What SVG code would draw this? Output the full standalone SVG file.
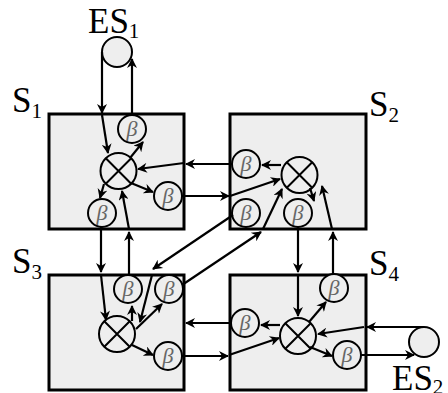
<svg xmlns="http://www.w3.org/2000/svg" width="448" height="393" viewBox="0 0 448 393">
<style>
.box{fill:#eeeeee;stroke:#000;stroke-width:3}
.c{fill:#eeeeee;stroke:#000;stroke-width:2}
.x{stroke:#000;stroke-width:2}
.b{font-family:"Liberation Serif","DejaVu Serif",serif;font-style:italic;font-size:22px;fill:#666;text-anchor:middle}
.lbl{font-family:"Liberation Serif","DejaVu Serif",serif;font-size:35px;fill:#000}
.sub{font-size:21px}
.e{fill:none;stroke:#000;stroke-width:2.2;marker-end:url(#ah)}
</style>
<defs>
<marker id="ah" viewBox="0 0 10 10" refX="9" refY="5" markerWidth="12" markerHeight="10" orient="auto" markerUnits="userSpaceOnUse"><path d="M0,0 L10,5 L0,10 L3,5 Z" fill="#000"/></marker>
<g id="otimes"><circle class="c" r="18"/><path class="x" d="M-12.7,-12.7 L12.7,12.7 M-12.7,12.7 L12.7,-12.7"/></g>
<g id="beta"><circle class="c" r="14"/><text class="b" y="7">β</text></g>
</defs>

<g id="ES1"><circle class="c" cx="117" cy="52" r="15"/><text class="lbl" x="88" y="33">ES<tspan class="sub" dy="5">1</tspan></text></g>
<g id="ES2"><circle class="c" cx="424" cy="342" r="15"/><text class="lbl" x="392" y="390">ES<tspan class="sub" dy="4">2</tspan></text></g>

<g id="S1"><rect class="box" x="49" y="114" width="135" height="115"/><text class="lbl" x="12" y="112">S<tspan class="sub" dy="6">1</tspan></text>
<use href="#otimes" x="118.5" y="171"/><use href="#beta" x="132" y="129"/><use href="#beta" x="168" y="196"/><use href="#beta" x="102" y="213"/></g>
<g id="S2"><rect class="box" x="230" y="114" width="136" height="115"/><text class="lbl" x="369" y="116">S<tspan class="sub" dy="6">2</tspan></text>
<use href="#otimes" x="299.5" y="175"/><use href="#beta" x="246" y="164"/><use href="#beta" x="246" y="213"/><use href="#beta" x="298" y="213"/></g>
<g id="S3"><rect class="box" x="49" y="275" width="135" height="115"/><text class="lbl" x="12" y="273">S<tspan class="sub" dy="6">3</tspan></text>
<use href="#otimes" x="117" y="334"/><use href="#beta" x="128" y="289"/><use href="#beta" x="169" y="289"/><use href="#beta" x="168" y="356"/></g>
<g id="S4"><rect class="box" x="230" y="275" width="136" height="115"/><text class="lbl" x="369" y="275">S<tspan class="sub" dy="6">4</tspan></text>
<use href="#otimes" x="298" y="336"/><use href="#beta" x="334" y="288"/><use href="#beta" x="245" y="323"/><use href="#beta" x="347" y="355"/></g>

<g id="connectors">
<path class="e" d="M102,52 V113"/>
<path class="e" d="M102,115 L108,153"/>
<path class="e" d="M132,115 V59"/>
<path class="e" d="M130,158 L143,142"/>
<path class="e" d="M131,183 L153,192"/>
<path class="e" d="M104,184 L100,198"/>
<path class="e" d="M129,275 V232"/>
<path class="e" d="M129,229 L122,191"/>
<path class="e" d="M232,164 H186"/>
<path class="e" d="M184,163 L138,169"/>
<path class="e" d="M182,196 H229"/>
<path class="e" d="M230,196 L280,179"/>
<path class="e" d="M101,227 V272"/>
<path class="e" d="M101,275 L106,320"/>
<path class="e" d="M281,165 H262"/>
<path class="e" d="M310,188 L314,201"/>
<path class="e" d="M333,274 V232"/>
<path class="e" d="M332,229 L322,186"/>
<path class="e" d="M298,227 V272"/>
<path class="e" d="M298,275 V316"/>
<path class="e" d="M233,215 L153,269"/>
<path class="e" d="M152,275 L140,322"/>
<path class="e" d="M182,285 L261,232"/>
<path class="e" d="M263,229 L282,189"/>
<path class="e" d="M132,321 V306"/>
<path class="e" d="M136,329 L162,304"/>
<path class="e" d="M132,345 L153,355"/>
<path class="e" d="M182,356 H228"/>
<path class="e" d="M229,355 L279,338"/>
<path class="e" d="M231,323 H186"/>
<path class="e" d="M280,325 H261"/>
<path class="e" d="M309,322 L326,302"/>
<path class="e" d="M310,347 L332,356"/>
<path class="e" d="M424,327 H367"/>
<path class="e" d="M364,327 L318,334"/>
<path class="e" d="M361,355 H414"/>
</g>
</svg>
